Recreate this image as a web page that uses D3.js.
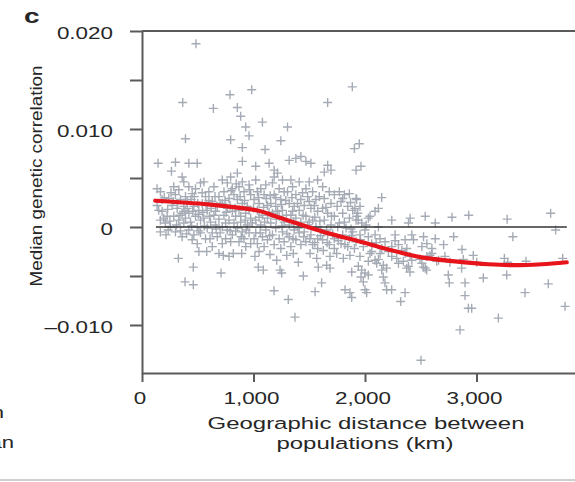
<!DOCTYPE html>
<html>
<head>
<meta charset="utf-8">
<script src="https://cdn.jsdelivr.net/npm/d3@7"></script>
<style>
  html, body { margin: 0; padding: 0; background: #fff; }
  svg { display: block; font-family: "Liberation Sans", Arial, Helvetica, sans-serif; }
</style>
</head>
<body>
<svg id="chart" width="575" height="482"></svg>
<script>
// ---- data: [distance km, median genetic correlation] ----
const highOutliers = [
  [484,0.0187],[984,0.0140],[789,0.0135],[365,0.0127],[640,0.0121],[855,0.0122],[885,0.0113],
  [1665,0.0127],[1886,0.0143],[930,0.0102],[1080,0.0107],[1305,0.0102],[960,0.0093],
  [795,0.0089],[1245,0.0088],[390,0.0090],[900,0.0081],[1104,0.0079]
];

const bandLeft = [
  [144,0.0065],[135,0.0039],[165,0.0036],[180,0.0028],[150,0.0017],[180,0.0016],[165,0.0007],
  [225,0.0011],[165,-0.0005],[210,0.0004],[135,0.0022],
  [300,0.0066],[264,0.0057],[360,0.0051],[285,0.0041],[330,0.0038],[375,0.0046],[300,0.0033],
  [345,0.0028],[270,0.0022],[315,0.0019],[360,0.0014],[285,0.0011],[330,0.0007],[375,0.0004],
  [300,-0.0005],[255,0.0000],[360,-0.0010],[375,0.0021],[240,0.0029],
  [420,0.0065],[495,0.0065],[420,0.0041],[480,0.0039],[525,0.0045],[450,0.0034],[405,0.0026],
  [465,0.0021],[510,0.0017],[420,0.0014],[480,0.0011],[525,0.0007],[435,0.0005],[495,0.0000],
  [420,-0.0003],[465,-0.0008],[525,-0.0006],[495,-0.0017],[450,-0.0013],[405,0.0019],[540,0.0024],
  [555,0.0046],[600,0.0036],[645,0.0041],[570,0.0031],[630,0.0026],[675,0.0021],[585,0.0017],
  [645,0.0012],[555,0.0009],[615,0.0005],[660,0.0002],[585,-0.0001],[630,-0.0006],[675,-0.0010],
  [570,-0.0012],[630,-0.0020],[690,0.0031],
  [720,0.0048],[765,0.0045],[795,0.0051],[810,0.0039],[735,0.0036],[780,0.0029],[825,0.0033],
  [720,0.0024],[765,0.0019],[810,0.0016],[735,0.0012],[780,0.0007],[825,0.0004],[720,0.0000],
  [765,-0.0003],[810,-0.0008],[750,-0.0012],[795,-0.0015],[720,-0.0017],[840,0.0011],
  [855,0.0055],[900,0.0067],[900,0.0046],[960,0.0043],[870,0.0041],[915,0.0036],[975,0.0033],
  [855,0.0028],[900,0.0024],[945,0.0021],[870,0.0017],[930,0.0014],[975,0.0009],[885,0.0005],
  [945,0.0002],[855,-0.0001],[900,-0.0005],[960,-0.0006],[915,-0.0012],[870,-0.0015],
  [975,-0.0017],[930,-0.0020]
];

const bandMiddle = [
  [1020,0.0062],[1020,0.0048],[1065,0.0039],[1110,0.0043],[1035,0.0036],[1095,0.0033],[1005,0.0028],
  [1050,0.0024],[1125,0.0022],[1035,0.0017],[1080,0.0012],[1125,0.0009],[1020,0.0007],[1065,0.0002],
  [1110,-0.0003],[1020,-0.0006],[1080,-0.0010],[1125,-0.0013],[1035,-0.0017],[1095,-0.0020],[1140,0.0065],
  [1185,0.0058],[1215,0.0055],[1185,0.0051],[1260,0.0048],[1170,0.0045],[1230,0.0039],[1275,0.0036],
  [1185,0.0033],[1245,0.0028],[1155,0.0024],[1200,0.0021],[1260,0.0017],[1170,0.0014],[1230,0.0011],
  [1275,0.0005],[1155,0.0004],[1200,-0.0001],[1260,-0.0005],[1170,-0.0008],[1230,-0.0012],
  [1275,-0.0015],[1185,-0.0018],[1245,-0.0022],
  [1320,0.0068],[1380,0.0070],[1425,0.0072],[1335,0.0048],[1410,0.0046],[1350,0.0041],[1305,0.0036],
  [1380,0.0033],[1425,0.0028],[1320,0.0024],[1365,0.0021],[1410,0.0017],[1335,0.0012],[1380,0.0009],
  [1425,0.0005],[1320,0.0002],[1365,-0.0003],[1410,-0.0006],[1320,-0.0010],[1380,-0.0013],
  [1425,-0.0018],[1335,-0.0020],
  [1470,0.0067],[1515,0.0065],[1500,0.0046],[1575,0.0048],[1470,0.0039],[1530,0.0036],[1485,0.0031],
  [1560,0.0028],[1455,0.0022],[1515,0.0019],[1575,0.0016],[1470,0.0011],[1530,0.0007],[1485,0.0002],
  [1560,0.0000],[1455,-0.0005],[1515,-0.0008],[1575,-0.0012],[1470,-0.0015],[1530,-0.0018],[1575,-0.0022],
  [1665,0.0063],[1635,0.0056],[1695,0.0058],[1620,0.0041],[1680,0.0036],[1725,0.0033],[1635,0.0029],
  [1695,0.0024],[1620,0.0019],[1665,0.0014],[1725,0.0011],[1635,0.0007],[1695,0.0002],[1605,-0.0003],
  [1665,-0.0008],[1725,-0.0012],[1620,-0.0013],[1680,-0.0018],[1725,-0.0022],
  [1905,0.0080],[1920,0.0058],[1770,0.0036],[1815,0.0033],[1860,0.0034],[1920,0.0029],[1785,0.0026],
  [1845,0.0021],[1890,0.0017],[1800,0.0014],[1860,0.0009],[1920,0.0007],[1770,0.0004],[1830,-0.0001],
  [1890,-0.0005],[1800,-0.0008],[1860,-0.0012],[1920,-0.0015],[1785,-0.0017],[1845,-0.0020],[1905,-0.0022]
];

// the almost solid core of the cloud, where crosses overlap
const denseCore = [
  [200,0.0030],[230,0.0018],[195,0.0009],[250,0.0006],[215,-0.0008],[260,0.0035],[280,0.0026],
  [235,-0.0003],[320,0.0024],[340,0.0012],[310,0.0002],[345,-0.0004],[390,0.0031],[390,0.0009],
  [400,-0.0007],[385,0.0016],[440,0.0028],[455,0.0016],[445,0.0001],[470,0.0031],[500,0.0024],
  [505,0.0013],[510,-0.0004],[540,0.0035],[545,0.0015],[560,0.0001],[575,0.0022],[600,0.0027],
  [605,0.0011],[610,-0.0012],[620,0.0019],[655,0.0031],[660,0.0016],[665,-0.0002],[690,0.0008],
  [700,0.0024],[700,-0.0006],[745,0.0027],[750,0.0004],[755,0.0015],[790,0.0022],[790,-0.0004],
  [800,0.0037],[835,0.0019],[840,-0.0004],[845,0.0044],[880,0.0031],[885,0.0011],[890,-0.0010],
  [920,0.0027],[925,0.0007],[935,-0.0003],[960,0.0017],[965,0.0038],[990,0.0004],[1000,0.0019],
  [1005,-0.0012],[1045,0.0030],[1050,0.0010],[1060,-0.0006],[1090,0.0020],[1100,0.0005],
  [1115,0.0029],[1140,0.0015],[1145,-0.0009],[1150,0.0032],[1200,0.0030],[1205,0.0008],
  [1215,0.0016],[1250,0.0023],[1255,0.0001],[1290,0.0027],[1295,0.0012],[1300,-0.0007],
  [1345,0.0030],[1350,0.0016],[1355,-0.0012],[1360,0.0005],[1395,0.0024],[1400,-0.0001],
  [1440,0.0035],[1445,0.0012],[1450,-0.0010],[1500,0.0026],[1500,0.0005],[1505,-0.0012],
  [1545,0.0022],[1550,0.0010],[1550,-0.0016],[1590,0.0031],[1595,0.0006],[1600,-0.0009],
  [1650,0.0020],[1655,-0.0003],[1660,-0.0016],[1700,0.0011],[1710,-0.0007],[1750,0.0021],
  [1755,0.0000],[1760,-0.0014],[1800,0.0029],[1815,0.0005],[1820,-0.0018],[1870,0.0025],
  [1875,-0.0002],[1880,-0.0009],[1935,0.0014],[1960,-0.0013],[2010,0.0002],[2060,-0.0025],
  [2100,-0.0016],[2210,-0.0025],[2270,-0.0014],[2330,-0.0024]
];

const bandRight = [
  [1949,0.0085],[1964,0.0062],[2150,0.0030],[2120,0.0019],[2090,0.0016],[2045,0.0011],[2240,0.0007],
  [2405,0.0009],[2390,0.0004],[2540,0.0011],[2630,0.0004],[2780,0.0010],[2930,0.0012],[3275,0.0008],
  [3665,0.0014],[3710,-0.0003],[3326,-0.0010],[2420,-0.0008],[2435,-0.0013],[2525,-0.0010],
  [2630,-0.0012],[2705,-0.0018],[2795,-0.0010],[2870,-0.0023],
  [1925,0.0028],[1940,0.0007],[1970,0.0004],[2000,-0.0003],[1955,-0.0008],[2030,-0.0010],[2090,-0.0008],
  [2135,-0.0012],[2180,-0.0015],[2060,-0.0017],[1985,-0.0020],[2150,-0.0022],[2240,-0.0020],
  [2300,-0.0018],[2360,-0.0013],[2375,-0.0022],[2510,-0.0020],[2555,-0.0017],[2600,-0.0022],
  [1910,0.0019],[1925,0.0011],[2120,0.0000],[2270,-0.0008],[2030,0.0009],[1955,0.0021]
];

const lowerTail = [
  [326,-0.0032],[460,-0.0041],[386,-0.0056],[460,-0.0059],[709,-0.0047],[580,-0.0025],[729,-0.0029],
  [819,-0.0027],[894,-0.0027],[1013,-0.0030],[1043,-0.0041],[1088,-0.0044],[1148,-0.0028],
  [1184,-0.0065],[1208,-0.0034],[1238,-0.0044],[1253,-0.0047],[1298,-0.0029],[1312,-0.0074],
  [1357,-0.0027],[1372,-0.0092],[1402,-0.0036],[1447,-0.0050],[1507,-0.0027],[1552,-0.0066],
  [1567,-0.0032],[1581,-0.0041],[1611,-0.0057],[1626,-0.0024],[1656,-0.0039],[1686,-0.0042],
  [1686,-0.0030],[1746,-0.0027],[1806,-0.0032],[1821,-0.0064],[1865,-0.0067],[1881,-0.0072],
  [1881,-0.0046],[1865,-0.0029],[1970,-0.0044],[1964,-0.0051],[1985,-0.0056],[2000,-0.0047],
  [2030,-0.0049],[2000,-0.0064],[2015,-0.0067],[1955,-0.0030],[2045,-0.0027],[2120,-0.0033],
  [2105,-0.0037],[2150,-0.0044],[2164,-0.0051],[2179,-0.0057],[2194,-0.0042],[2194,-0.0064],
  [2239,-0.0064],[2284,-0.0032],[2320,-0.0076],[2344,-0.0035],[2359,-0.0067],[2374,-0.0042],
  [2404,-0.0046],[2404,-0.0030],[2493,-0.0033],[2502,-0.0136],[2523,-0.0041],[2553,-0.0044],
  [2583,-0.0029],[2643,-0.0035],[2717,-0.0030],[2747,-0.0049],[2756,-0.0057],[2762,-0.0036],
  [2852,-0.0105],[2867,-0.0042],[2882,-0.0033],[2897,-0.0057],[2897,-0.0070],[2927,-0.0083],
  [2957,-0.0083],[2971,-0.0029],[3002,-0.0036],[3061,-0.0052],[3196,-0.0093],[3250,-0.0032],
  [3271,-0.0049],[3280,-0.0036],[3435,-0.0067],[3444,-0.0035],[3644,-0.0058],[3773,-0.0032],
  [3794,-0.0081],
  [2360,-0.0027],[2420,-0.0034],[2510,-0.0037],[2555,-0.0030],[2390,-0.0040],[2540,-0.0042],
  [2600,-0.0027],[2660,-0.0034],[2135,-0.0027],[2090,-0.0034],[2165,-0.0039],[2240,-0.0030],
  [2300,-0.0037],[2030,-0.0035],[1940,-0.0040],
  [690,-0.0027],[510,-0.0025],[780,-0.0030],[1050,-0.0025]
];

// smoothed fit (red curve)
const fitDistance = [119, 598, 1046, 1196, 1435, 1674, 1928, 2209, 2508, 2807, 3106, 3345, 3585, 3809];
const fitCorr = [0.00268, 0.0023, 0.00166, 0.00110, 0.0002, -0.00065, -0.0014, -0.0023, -0.0031,
  -0.0035, -0.0038, -0.0039, -0.0038, -0.0036];

const zeroLineExtent = [125, 3810];

const xTicks = [0, 1000, 2000, 3000];
const xTickLabels = ["0", "1,000", "2,000", "3,000"];
const yTicks = [-0.010, -0.005, 0, 0.005, 0.010, 0.015, 0.020];
const yLabelTicks = [-0.010, 0, 0.010, 0.020];
const yTickLabels = ["\u20130.010", "0", "0.010", "0.020"];

// ---- drawing ----
const svg = d3.select("#chart");
const textColor = "#262626";
const axisColor = "#5a5a5a";

const x = d3.scaleLinear().domain([0, 4000]).range([142, 588]);
const y = d3.scaleLinear().domain([-0.0149, 0.020]).range([373, 31]);

// text stretched horizontally like in the figure
function stretchedText(sel, px, py, str, sx, anchor, size, weight) {
  return sel.append("text")
    .attr("transform", "translate(" + px + "," + py + ") scale(" + sx + ",1)")
    .attr("text-anchor", anchor)
    .attr("font-size", size)
    .attr("font-weight", weight || "normal")
    .attr("fill", textColor)
    .text(str);
}

// points
const allPoints = highOutliers.concat(bandLeft, bandMiddle, denseCore, bandRight, lowerTail);
const plus = "M-4.5,0H4.5M0,-4.5V4.5";
svg.append("g")
  .selectAll("path")
  .data(allPoints)
  .enter()
  .append("path")
  .attr("d", plus)
  .attr("transform", d => "translate(" + x(d[0]) + "," + y(d[1]) + ")")
  .attr("fill", "none")
  .attr("stroke", "#a5abb5")
  .attr("stroke-width", 1.4);

// zero line
svg.append("line")
  .attr("x1", x(zeroLineExtent[0])).attr("x2", x(zeroLineExtent[1]))
  .attr("y1", y(0)).attr("y2", y(0))
  .attr("stroke", "#333").attr("stroke-width", 1.4);

// fitted curve
const fit = fitDistance.map((d, i) => [d, fitCorr[i]]);
svg.append("path")
  .datum(fit)
  .attr("fill", "none")
  .attr("stroke", "#e8141c")
  .attr("stroke-width", 4.2)
  .attr("stroke-linecap", "round")
  .attr("d", d3.line().x(d => x(d[0])).y(d => y(d[1])).curve(d3.curveCatmullRom.alpha(0.5)));

// frame top line
svg.append("line")
  .attr("x1", x(0)).attr("x2", x(4000))
  .attr("y1", y(0.020)).attr("y2", y(0.020))
  .attr("stroke", axisColor).attr("stroke-width", 2);

// y axis
const yAxisG = svg.append("g")
  .attr("transform", "translate(" + x(0) + ",0)")
  .call(d3.axisLeft(y).tickValues(yTicks).tickSize(12).tickSizeOuter(0).tickFormat(""));
yAxisG.selectAll("path,line").attr("stroke", axisColor).attr("stroke-width", 2);

yLabelTicks.forEach((v, i) => {
  stretchedText(svg, 113, y(v) + 8, yTickLabels[i], 1.32, "end", 17);
});

// x axis
const xAxisG = svg.append("g")
  .attr("transform", "translate(0," + y(-0.0149) + ")")
  .call(d3.axisBottom(x).tickValues(xTicks).tickSize(9).tickSizeOuter(0).tickFormat(""));
xAxisG.selectAll("path,line").attr("stroke", axisColor).attr("stroke-width", 2);

xTicks.forEach((v, i) => {
  stretchedText(svg, x(v) - 2, 404, xTickLabels[i], 1.32, "middle", 17);
});

// axis titles
stretchedText(svg, 366, 429, "Geographic distance between", 1.41, "middle", 17);
stretchedText(svg, 365, 449, "populations (km)", 1.41, "middle", 17);

svg.append("text")
  .attr("transform", "translate(42,176) rotate(-90) scale(1.11,1)")
  .attr("text-anchor", "middle")
  .attr("font-size", 17)
  .attr("fill", textColor)
  .text("Median genetic correlation");

// panel letter
stretchedText(svg, 24, 23, "c", 1.4, "start", 20, "bold");

// fragments of the neighbouring panel, cut by the left edge as in the figure
stretchedText(svg, 4, 418, "n", 1.3, "end", 17);
stretchedText(svg, 14, 448, "an", 1.3, "end", 17);

// bottom separator
svg.append("line")
  .attr("x1", 0).attr("x2", 575)
  .attr("y1", 480).attr("y2", 480)
  .attr("stroke", "#cfcfcf").attr("stroke-width", 2);
</script>
</body>
</html>
